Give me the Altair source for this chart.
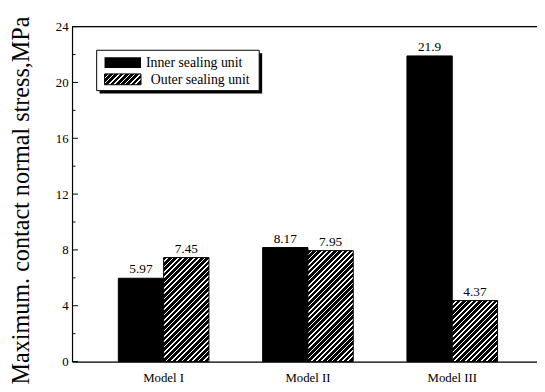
import math
import altair as alt
import pandas as pd

models = ["Model I", "Model II", "Model III"]
series = ["Inner sealing unit", "Outer sealing unit"]
inner = [5.97, 8.17, 21.9]
outer = [7.45, 7.95, 4.37]
major_ticks = [0, 4, 8, 12, 16, 20, 24]
minor_ticks = [2, 6, 10, 14, 18, 22]

W, H = 472, 340
YMAX = 24
FONT = "Liberation Serif"
BAR_W = 46

rows = []
for m, a, b in zip(models, inner, outer):
    rows.append({"model": m, "series": series[0], "value": a, "label": f"{a:g}"})
    rows.append({"model": m, "series": series[1], "value": b, "label": f"{b:g}"})
df = pd.DataFrame(rows)


def hatch(w, h, period=3.8, white=0.32):
    s = (w + h) / (w * w + h * h)
    n = max(1, int(round((w + h) / math.sqrt(2) / period)))
    stops = []
    for i in range(n):
        o0 = i / n
        o1 = (i + 1 - white) / n
        o2 = (i + 1) / n
        stops += [
            {"offset": o0, "color": "black"},
            {"offset": o1, "color": "black"},
            {"offset": o1, "color": "white"},
            {"offset": o2, "color": "white"},
        ]
    return {"gradient": "linear", "x1": 0, "y1": 0,
            "x2": w * s, "y2": h * s, "stops": stops}


conds = []
for m, b in zip(models, outer):
    conds.append({
        "test": f"datum.series === '{series[1]}' && datum.model === '{m}'",
        "value": hatch(BAR_W, b * H / YMAX),
    })

x_enc = alt.X("model:N", sort=models,
              scale=alt.Scale(paddingInner=0.372, paddingOuter=0.297, align=0.54),
              axis=alt.Axis(title=None, ticks=False, labelAngle=0, labelPadding=10,
                            labelFontSize=13, labelFont=FONT, labelColor="black",
                            domainColor="black", domainWidth=1.2))
y_enc = alt.Y("value:Q", scale=alt.Scale(domain=[0, YMAX], nice=False),
              axis=alt.Axis(title="Maximum. contact normal stress,MPa", values=major_ticks,
                            grid=False, ticks=False, labelPadding=4, labelFontSize=13,
                            labelFont=FONT, labelColor="black", domainColor="black",
                            domainWidth=1.2, titleFont=FONT, titleFontSize=24.5,
                            titleFontWeight="normal", titleColor="black", titlePadding=22,
                            titleY=176))
xo = alt.XOffset("series:N", scale=alt.Scale(domain=series, paddingInner=0, paddingOuter=0))

bars = alt.Chart(df).mark_bar(stroke="black", strokeWidth=1).encode(
    x=x_enc, y=y_enc, xOffset=xo,
    fill={"condition": conds, "value": "black"},
)

labels = alt.Chart(df).mark_text(baseline="bottom", dy=-2, fontSize=13.5, font=FONT,
                                 color="black").encode(
    x=alt.X("model:N", sort=models), xOffset=xo, y="value:Q", text="label:N")

top_line = alt.Chart(alt.Data(values=[{}])).mark_rule(color="black", strokeWidth=1.2).encode(
    y=alt.datum(YMAX), x=alt.value(0), x2=alt.value(W))

tick_major = alt.Chart(pd.DataFrame({"v": major_ticks})).mark_rule(color="black").encode(
    y="v:Q", x=alt.value(0), x2=alt.value(6))
tick_minor = alt.Chart(pd.DataFrame({"v": minor_ticks})).mark_rule(color="black").encode(
    y="v:Q", x=alt.value(0), x2=alt.value(3.5))

one = alt.Data(values=[{}])
# legend (drawn in pixel space)
lg_shadow = alt.Chart(one).mark_rect(color="black").encode(
    x=alt.value(28), x2=alt.value(193), y=alt.value(27), y2=alt.value(68))
lg_box = alt.Chart(one).mark_rect(fill="white", stroke="black", strokeWidth=1).encode(
    x=alt.value(25), x2=alt.value(190), y=alt.value(24), y2=alt.value(65))
sw_inner = alt.Chart(one).mark_rect(color="black").encode(
    x=alt.value(33), x2=alt.value(70), y=alt.value(31), y2=alt.value(42))
sw_outer = alt.Chart(one).mark_rect(stroke="black", strokeWidth=1,
                                    fill=alt.Gradient(**hatch(37, 11))).encode(
    x=alt.value(33), x2=alt.value(70), y=alt.value(48), y2=alt.value(59))
lg_text = alt.Chart(pd.DataFrame({"name": series, "px": [75, 80], "py": [37, 54]})).mark_text(
    align="left", baseline="middle", fontSize=14, font=FONT, color="black").encode(
    x=alt.X("px:Q", scale=None), y=alt.Y("py:Q", scale=None), text="name:N")

chart = alt.layer(bars, labels, top_line, tick_major, tick_minor,
                  lg_shadow, lg_box, sw_inner, sw_outer, lg_text).properties(
    width=W, height=H,
    autosize=alt.AutoSizeParams(type="none"),
    padding={"left": 65, "top": 16, "right": 0, "bottom": 28},
).configure_view(strokeWidth=0).configure(background="white")

chart.save("out.html", embed_options={"renderer": "svg", "actions": False})
